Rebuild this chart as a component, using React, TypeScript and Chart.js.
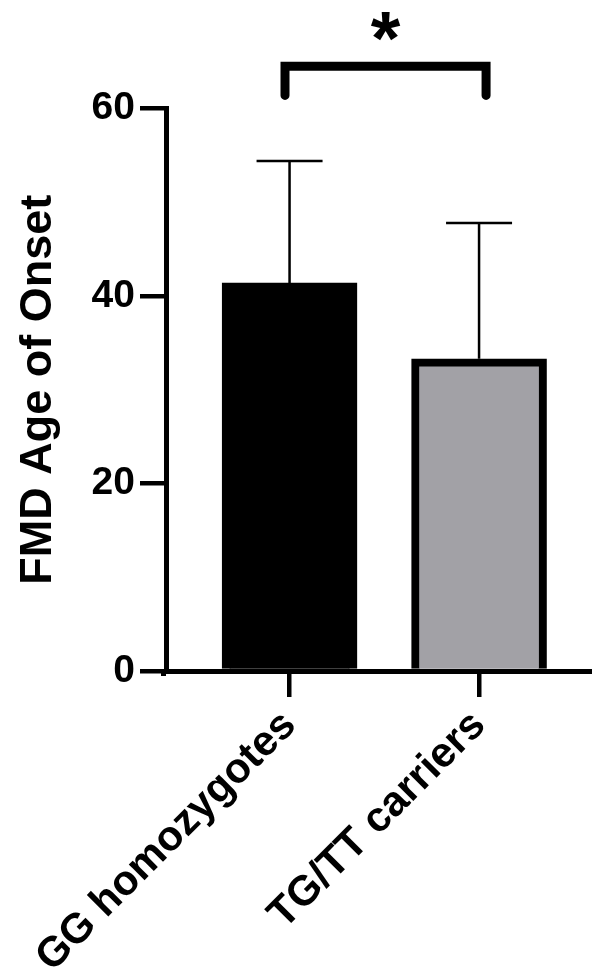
import React, { useEffect, useRef } from "react";
import { Chart, registerables } from "chart.js";

Chart.register(...registerables);

const categories = ["GG homozygotes", "TG/TT carriers"];
const means = [41.4, 33.3];
const sds = [13.0, 14.5];
const barColors = ["#000000", "#a2a1a6"];
const yTicks = [0, 20, 40, 60];
const significanceLabel = "*";
const bracketX = [-0.024, 1.037];
const bracketY = 64.5;
const bracketLegEnd = 61.4;
const starY = 68.8;

const FONT = "'Liberation Sans', Arial, Helvetica, sans-serif";

const overlayPlugin = {
  id: "overlay",
  afterDatasetsDraw(chart: any) {
    const ctx = chart.ctx;
    const xs = chart.scales.x;
    const ys = chart.scales.y;
    ctx.save();
    // error bars (upper only)
    ctx.strokeStyle = "#000";
    ctx.lineWidth = 2.5;
    ctx.lineCap = "butt";
    means.forEach((m, i) => {
      const x = xs.getPixelForValue(i);
      const yb = ys.getPixelForValue(m);
      const yt = ys.getPixelForValue(m + sds[i]);
      ctx.beginPath();
      ctx.moveTo(x, yb);
      ctx.lineTo(x, yt);
      ctx.moveTo(x - 33, yt);
      ctx.lineTo(x + 33, yt);
      ctx.stroke();
    });
    // significance bracket
    const x1 = xs.getPixelForValue(bracketX[0]);
    const x2 = xs.getPixelForValue(bracketX[1]);
    const yTop = ys.getPixelForValue(bracketY);
    const yLeg = ys.getPixelForValue(bracketLegEnd);
    ctx.lineWidth = 9;
    ctx.lineCap = "round";
    ctx.lineJoin = "miter";
    ctx.beginPath();
    ctx.moveTo(x1, yLeg);
    ctx.lineTo(x1, yTop);
    ctx.lineTo(x2, yTop);
    ctx.lineTo(x2, yLeg);
    ctx.stroke();
    // asterisk
    ctx.fillStyle = "#000";
    ctx.font = `bold 76px ${FONT}`;
    ctx.textAlign = "center";
    ctx.textBaseline = "alphabetic";
    const m = ctx.measureText(significanceLabel);
    const cx = xs.getPixelForValue((bracketX[0] + bracketX[1]) / 2);
    const cy = ys.getPixelForValue(starY);
    const asc = m.actualBoundingBoxAscent;
    const desc = m.actualBoundingBoxDescent;
    ctx.fillText(significanceLabel, cx, cy + (asc - desc) / 2);
    // corner fill
    ctx.fillRect(chart.chartArea.left - 5, chart.chartArea.bottom, 5, 5);
    ctx.restore();
  },
};

export default function App() {
  const ref = useRef<HTMLCanvasElement | null>(null);
  useEffect(() => {
    if (!ref.current) return;
    const chart = new Chart(ref.current, {
      type: "bar",
      data: {
        datasets: [
          {
            data: categories.map((_, i) => ({ x: i, y: means[i] })),
            backgroundColor: barColors,
            borderColor: "#000000",
            borderWidth: 8,
            barThickness: 135,
          },
        ],
      },
      options: {
        animation: false,
        responsive: false,
        devicePixelRatio: 1,
        layout: { padding: { top: 108.5, left: 0, right: 0, bottom: 0 } },
        plugins: {
          legend: { display: false },
          tooltip: { enabled: false },
        },
        scales: {
          x: {
            type: "linear",
            offset: false,
            min: -0.652,
            max: 1.596,
            afterBuildTicks: (scale: any) => {
              scale.ticks = categories.map((_, i) => ({ value: i }));
            },
            afterFit: (scale: any) => {
              scale.height = 303;
              scale.paddingLeft = 0;
              scale.paddingRight = 0;
            },
            grid: {
              display: true,
              offset: false,
              drawOnChartArea: false,
              drawTicks: true,
              tickLength: 26,
              lineWidth: 4.5,
              color: "#000",
            },
            border: { display: true, color: "#000", width: 5 },
            ticks: {
              autoSkip: false,
              minRotation: 45,
              maxRotation: 45,
              padding: 4,
              color: "#000",
              font: { family: FONT, size: 42, weight: "bold" },
              callback: (v: any) => categories[Math.round(v)] ?? "",
            },
          },
          y: {
            min: 0,
            max: 60,
            afterBuildTicks: (scale: any) => {
              scale.ticks = yTicks.map((v) => ({ value: v }));
            },
            afterFit: (scale: any) => {
              scale.width = 166;
              scale.paddingTop = 0;
              scale.paddingBottom = 0;
            },
            grid: {
              display: true,
              drawOnChartArea: false,
              drawTicks: true,
              tickLength: 26,
              lineWidth: 4.5,
              color: "#000",
            },
            border: { display: true, color: "#000", width: 5 },
            ticks: {
              padding: 5,
              color: "#000",
              font: { family: FONT, size: 39, weight: "bold" },
            },
            title: {
              display: true,
              text: "FMD Age of Onset",
              color: "#000",
              padding: { top: 12, bottom: 0 },
              font: { family: FONT, size: 45, weight: "bold" },
            },
          },
        },
      },
      plugins: [overlayPlugin],
    } as any);
    return () => chart.destroy();
  }, []);
  return (
    <div style={{ position: "absolute", left: 0, top: 0, width: 592, height: 974, background: "#fff" }}>
      <canvas ref={ref} width={592} height={974} style={{ display: "block" }} />
    </div>
  );
}
